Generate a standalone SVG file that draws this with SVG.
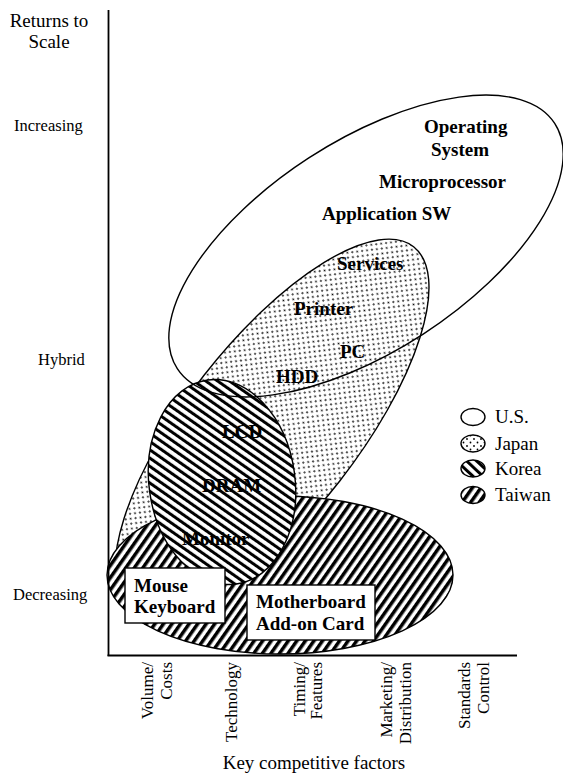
<svg xmlns="http://www.w3.org/2000/svg" width="563" height="773" viewBox="0 0 563 773">
<style>
.lb{font-family:"Liberation Serif",serif;font-weight:bold;font-size:19px;fill:#000}
.ax{font-family:"Liberation Serif",serif;font-size:16.5px;fill:#000}
.axb{font-family:"Liberation Serif",serif;font-size:17px;fill:#000}
.ax2{font-family:"Liberation Serif",serif;font-size:19px;fill:#000}
.lg{font-family:"Liberation Serif",serif;font-size:19px;fill:#000}
.out{stroke:#000;stroke-width:1.4}
.box{fill:#fff;stroke:#000;stroke-width:1.4}
</style>
<defs>
<pattern id="dots" width="7" height="7" patternUnits="userSpaceOnUse">
<rect width="7" height="7" fill="#fff"/>
<circle cx="1.5" cy="1.5" r="0.9" fill="#000"/>
<circle cx="5" cy="5" r="0.9" fill="#000"/>
</pattern>
<pattern id="korea" width="6.8" height="6.8" patternUnits="userSpaceOnUse" patternTransform="rotate(-47)">
<rect width="6.8" height="6.8" fill="#fff"/>
<rect x="0" y="0" width="3" height="6.8" fill="#000"/>
</pattern>
<pattern id="taiwan" width="7" height="7" patternUnits="userSpaceOnUse" patternTransform="rotate(35)">
<rect width="7" height="7" fill="#fff"/>
<rect x="0" y="0" width="3.5" height="7" fill="#000"/>
</pattern>
</defs>
<rect width="563" height="773" fill="#fff"/>

<g id="japan">
<ellipse cx="272" cy="428" rx="230" ry="86" transform="rotate(-52 272 428)" fill="url(#dots)" class="out"/>
</g>
<g id="taiwan">
<ellipse cx="280" cy="575" rx="173" ry="79" fill="url(#taiwan)" class="out"/>
</g>
<g id="korea">
<ellipse cx="222" cy="482" rx="73" ry="103" transform="rotate(-8 222 482)" fill="url(#korea)" class="out"/>
</g>
<g id="us">
<ellipse cx="366" cy="246" rx="225" ry="105" transform="rotate(-33 366 246)" fill="none" class="out"/>
</g>

<g id="connectors">
<line x1="108.5" y1="10" x2="108.5" y2="656" stroke="#000" stroke-width="1.8"/>
<line x1="107.5" y1="655.5" x2="517" y2="655.5" stroke="#000" stroke-width="1.8"/>
</g>

<g id="box-mouse">
<rect x="125" y="568" width="100" height="55" class="box"/>
<text class="lb" x="134" y="592">Mouse</text>
<text class="lb" x="134" y="613">Keyboard</text>
</g>
<g id="box-motherboard">
<rect x="247" y="585" width="128" height="55" class="box"/>
<text class="lb" x="256" y="608">Motherboard</text>
<text class="lb" x="256" y="630">Add-on Card</text>
</g>

<g id="labels">
<text class="lb" x="424" y="133">Operating</text>
<text class="lb" x="431" y="156">System</text>
<text class="lb" x="379" y="188">Microprocessor</text>
<text class="lb" x="322" y="220">Application SW</text>
<text class="lb" x="337" y="270">Services</text>
<text class="lb" x="294" y="315">Printer</text>
<text class="lb" x="340" y="358">PC</text>
<text class="lb" x="276" y="383">HDD</text>
<text class="lb" x="222" y="438">LCD</text>
<text class="lb" x="202" y="492">DRAM</text>
<text class="lb" x="182" y="545">Monitor</text>
</g>

<g id="axis-labels">
<text class="ax2" x="49" y="27" text-anchor="middle">Returns to</text>
<text class="ax2" x="49" y="48" text-anchor="middle">Scale</text>
<text class="ax" x="14" y="131">Increasing</text>
<text class="ax" x="38" y="365">Hybrid</text>
<text class="ax" x="13" y="600">Decreasing</text>
<text class="axb" transform="translate(153 662) rotate(-90)" text-anchor="end">Volume/</text>
<text class="axb" transform="translate(172 662) rotate(-90)" text-anchor="end">Costs</text>
<text class="axb" transform="translate(237 662) rotate(-90)" text-anchor="end">Technology</text>
<text class="axb" transform="translate(305 662) rotate(-90)" text-anchor="end">Timing/</text>
<text class="axb" transform="translate(322 662) rotate(-90)" text-anchor="end">Features</text>
<text class="axb" transform="translate(392 662) rotate(-90)" text-anchor="end">Marketing/</text>
<text class="axb" transform="translate(411 662) rotate(-90)" text-anchor="end">Distribution</text>
<text class="axb" transform="translate(470 662) rotate(-90)" text-anchor="end">Standards</text>
<text class="axb" transform="translate(489 662) rotate(-90)" text-anchor="end">Control</text>
<text class="ax2" x="314" y="769" text-anchor="middle">Key competitive factors</text>
</g>

<g id="legend">
<ellipse cx="473" cy="417" rx="12" ry="8.5" fill="#fff" class="out"/>
<text class="lg" x="495" y="423">U.S.</text>
<ellipse cx="473" cy="443.5" rx="12" ry="8.5" fill="url(#dots)" class="out"/>
<text class="lg" x="495" y="450">Japan</text>
<ellipse cx="473" cy="468.5" rx="12" ry="8.5" fill="url(#korea)" class="out"/>
<text class="lg" x="495" y="475">Korea</text>
<ellipse cx="473" cy="495" rx="12" ry="8.5" fill="url(#taiwan)" class="out"/>
<text class="lg" x="495" y="501">Taiwan</text>
</g>
</svg>
